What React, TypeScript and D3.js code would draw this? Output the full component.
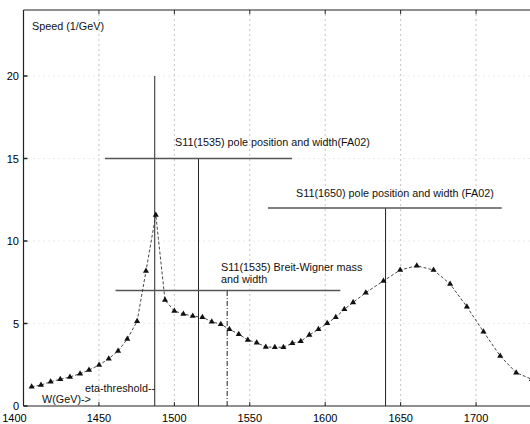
import React, { useEffect, useRef } from 'react';
import * as d3 from 'd3';

// W (MeV) and speed (1/GeV)
const wValues = [
  1405.4, 1411.6, 1418.0, 1424.4, 1430.8, 1437.5, 1443.4, 1450.1, 1456.5, 1462.7,
  1468.8, 1475.3, 1481.2, 1487.7, 1493.8, 1500.0, 1506.0, 1512.2, 1518.6, 1524.8,
  1530.8, 1536.5, 1542.7, 1548.7, 1554.6, 1560.6, 1566.6, 1572.3, 1578.2, 1583.8,
  1589.5, 1595.5, 1601.3, 1607.0, 1612.7, 1618.5, 1626.9, 1638.6, 1649.7, 1660.7,
  1671.8, 1682.8, 1693.9, 1704.9, 1716.0, 1726.6, 1737.0,
];
const speedValues = [
  1.17, 1.27, 1.47, 1.62, 1.76, 1.96, 2.18, 2.48, 2.87, 3.33,
  4.06, 5.13, 8.18, 11.58, 6.42, 5.76, 5.58, 5.45, 5.38, 5.11,
  4.95, 4.65, 4.35, 4.0, 3.84, 3.58, 3.56, 3.56, 3.8, 3.92,
  4.3, 4.65, 5.01, 5.38, 5.86, 6.28, 6.87, 7.58, 8.24, 8.5,
  8.24, 7.39, 6.02, 4.5, 3.03, 2.02, 1.62,
];

const xTicks = [1400, 1450, 1500, 1550, 1600, 1650, 1700];
const yTicks = [0, 5, 10, 15, 20];

// resonance markers: position, half width span, height
const markerNames = ['eta', 'S11(1535) pole', 'S11(1535) BW', 'S11(1650) pole'];
const markerMass = [1487, 1516, 1535, 1640];
const markerHeight = [20, 15, 7, 12];
const spanFrom = [null, 1454, 1461, 1562];
const spanTo = [null, 1578, 1610, 1717];
const markerDash = [null, null, '5,2,1,2', null];

const App = () => {
  const ref = useRef<SVGSVGElement>(null);

  const width = 530;
  const height = 424;
  const font = '"Liberation Sans", Arial, sans-serif';

  useEffect(() => {
    const svg = d3.select(ref.current);
    svg.selectAll('*').remove();

    const x = d3.scaleLinear().domain([1400, 1750]).range([23.5, 551.5]);
    const y = d3.scaleLinear().domain([0, 24]).range([406, 10]);

    // dotted grid
    svg.append('g')
      .selectAll('line')
      .data(xTicks.slice(1))
      .enter()
      .append('line')
      .attr('x1', (d) => x(d))
      .attr('x2', (d) => x(d))
      .attr('y1', y(0))
      .attr('y2', y(24))
      .attr('stroke', '#b4b4b4')
      .attr('stroke-width', 0.8)
      .attr('stroke-dasharray', '2,3');

    svg.append('g')
      .selectAll('line')
      .data(yTicks.slice(1))
      .enter()
      .append('line')
      .attr('x1', x(1400))
      .attr('x2', width)
      .attr('y1', (d) => y(d))
      .attr('y2', (d) => y(d))
      .attr('stroke', '#cccccc')
      .attr('stroke-width', 0.8)
      .attr('stroke-dasharray', '1,4');

    // frame
    svg.append('line')
      .attr('x1', x(1400)).attr('x2', width)
      .attr('y1', y(24)).attr('y2', y(24))
      .attr('stroke', '#222').attr('stroke-width', 1.2);
    svg.append('line')
      .attr('x1', x(1400)).attr('x2', width)
      .attr('y1', y(0)).attr('y2', y(0))
      .attr('stroke', '#222').attr('stroke-width', 1.2);
    svg.append('line')
      .attr('x1', x(1400)).attr('x2', x(1400))
      .attr('y1', y(0)).attr('y2', y(24))
      .attr('stroke', '#222').attr('stroke-width', 1.2);

    // ticks
    svg.append('g')
      .selectAll('line')
      .data(xTicks)
      .enter()
      .append('line')
      .attr('x1', (d) => x(d)).attr('x2', (d) => x(d))
      .attr('y1', y(0)).attr('y2', y(0) - 4)
      .attr('stroke', '#222');
    svg.append('g')
      .selectAll('line')
      .data(xTicks)
      .enter()
      .append('line')
      .attr('x1', (d) => x(d)).attr('x2', (d) => x(d))
      .attr('y1', y(24)).attr('y2', y(24) + 4)
      .attr('stroke', '#222');
    svg.append('g')
      .selectAll('line')
      .data(yTicks)
      .enter()
      .append('line')
      .attr('x1', x(1400)).attr('x2', x(1400) + 4)
      .attr('y1', (d) => y(d)).attr('y2', (d) => y(d))
      .attr('stroke', '#222').attr('stroke-width', 1.5);

    // tick labels
    svg.append('g')
      .selectAll('text')
      .data(xTicks)
      .enter()
      .append('text')
      .attr('x', (d, i) => x(d) - (i === 0 ? 9 : 0))
      .attr('y', 422)
      .attr('text-anchor', 'middle')
      .style('font-family', font)
      .style('font-size', '11px')
      .text((d) => d);
    svg.append('g')
      .selectAll('text')
      .data(yTicks)
      .enter()
      .append('text')
      .attr('x', 19)
      .attr('y', (d) => y(d) + 4)
      .attr('text-anchor', 'end')
      .style('font-family', font)
      .style('font-size', '11px')
      .text((d) => d);

    // resonance lines
    markerNames.forEach((_, i) => {
      svg.append('line')
        .attr('x1', x(markerMass[i])).attr('x2', x(markerMass[i]))
        .attr('y1', y(0)).attr('y2', y(markerHeight[i]))
        .attr('stroke', '#222')
        .attr('stroke-width', 1)
        .attr('stroke-dasharray', markerDash[i] || null);
      if (spanFrom[i] != null) {
        svg.append('line')
          .attr('x1', x(spanFrom[i])).attr('x2', x(spanTo[i]))
          .attr('y1', y(markerHeight[i])).attr('y2', y(markerHeight[i]))
          .attr('stroke', '#555')
          .attr('stroke-width', 1.3);
      }
    });

    // data curve
    const points = wValues.map((w, i) => [w, speedValues[i]]);
    const line = d3.line()
      .x((d) => x(d[0]))
      .y((d) => y(d[1]));

    svg.append('path')
      .datum(points)
      .attr('d', line)
      .attr('fill', 'none')
      .attr('stroke', '#333')
      .attr('stroke-width', 0.9)
      .attr('stroke-dasharray', '3,2');

    const triangle = d3.symbol().type(d3.symbolTriangle).size(16);
    svg.append('g')
      .selectAll('path')
      .data(points)
      .enter()
      .append('path')
      .attr('d', triangle)
      .attr('transform', (d) => `translate(${x(d[0])}, ${y(d[1])})`)
      .attr('fill', '#111');

    // text labels
    const labels = [
      { text: 'Speed (1/GeV)', x: 32, y: 30 },
      { text: 'S11(1535) pole position and width(FA02)', x: 175, y: 146 },
      { text: 'S11(1650) pole position and width (FA02)', x: 296, y: 197 },
      { text: 'S11(1535) Breit-Wigner mass', x: 221, y: 271 },
      { text: 'and width', x: 221, y: 283 },
      { text: 'eta-threshold--', x: 85, y: 392 },
      { text: 'W(GeV)->', x: 42, y: 403 },
    ];
    svg.append('g')
      .selectAll('text')
      .data(labels)
      .enter()
      .append('text')
      .attr('x', (d) => d.x)
      .attr('y', (d) => d.y)
      .style('font-family', font)
      .style('font-size', '10.8px')
      .style('fill', '#111')
      .text((d) => d.text);
  }, []);

  return (
    <svg
      ref={ref}
      width={width}
      height={height}
      style={{ position: 'absolute', left: 0, top: 0, background: '#fff' }}
    />
  );
};

export default App;
